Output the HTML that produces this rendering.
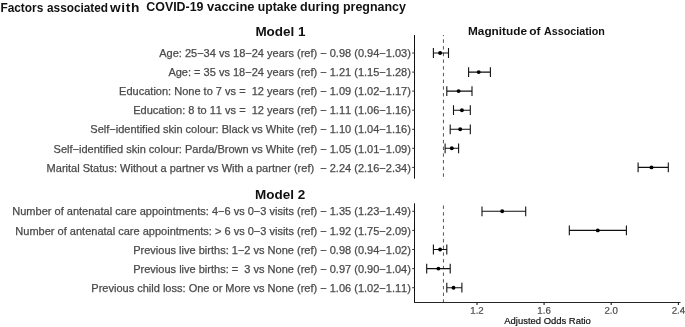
<!DOCTYPE html>
<html><head><meta charset="utf-8"><title>Factors associated with COVID-19 vaccine uptake during pregnancy</title>
<style>
html,body{margin:0;padding:0;background:#fff;}
body{width:685px;height:327px;overflow:hidden;}
svg{display:block;}
text{font-family:"Liberation Sans",sans-serif;font-kerning:none;}
.lab{font-size:11.02px;fill:#4a4a4a;stroke:#4a4a4a;stroke-width:0.25px;text-anchor:end;}
.tk{font-size:9.7px;fill:#4a4a4a;stroke:#4a4a4a;stroke-width:0.2px;text-anchor:middle;}
.ttl{font-weight:bold;fill:#111;}
</style></head><body>
<svg width="685" height="327" viewBox="0 0 685 327">
<rect width="685" height="327" fill="#fff"/>
<text class="ttl" x="0.4" y="11.7" font-size="12.7" textLength="42.9" lengthAdjust="spacingAndGlyphs">Factors</text>
<text class="ttl" x="47.0" y="11.7" font-size="12.7" textLength="61.1" lengthAdjust="spacingAndGlyphs">associated</text>
<text class="ttl" x="110.0" y="11.7" font-size="12.7" letter-spacing="0.6" textLength="30.0" lengthAdjust="spacingAndGlyphs">with</text>
<text class="ttl" x="146.3" y="11.1" font-size="12.7" textLength="57.2" lengthAdjust="spacingAndGlyphs">COVID-19</text>
<text class="ttl" x="207.0" y="11.1" font-size="12.7" textLength="47.5" lengthAdjust="spacingAndGlyphs">vaccine</text>
<text class="ttl" x="257.8" y="11.1" font-size="12.7" textLength="39.2" lengthAdjust="spacingAndGlyphs">uptake</text>
<text class="ttl" x="300.1" y="11.1" font-size="12.7" textLength="39.4" lengthAdjust="spacingAndGlyphs">during</text>
<text class="ttl" x="343.0" y="11.1" font-size="12.7" textLength="62.9" lengthAdjust="spacingAndGlyphs">pregnancy</text>
<text class="ttl" x="255.4" y="35.8" font-size="12.6" textLength="50.2" lengthAdjust="spacingAndGlyphs">Model 1</text>
<text class="ttl" x="255.1" y="199.0" font-size="12.6" textLength="50.2" lengthAdjust="spacingAndGlyphs">Model 2</text>
<text class="ttl" x="468.0" y="34.8" font-size="11.3" textLength="59.0" lengthAdjust="spacingAndGlyphs">Magnitude</text>
<text class="ttl" x="529.2" y="34.8" font-size="11.3" textLength="11.3" lengthAdjust="spacingAndGlyphs">of</text>
<text class="ttl" x="544.0" y="34.8" font-size="11.3" textLength="60.8" lengthAdjust="spacingAndGlyphs">Association</text>
<line x1="443.45" y1="35.0" x2="443.45" y2="178.6" stroke="#383838" stroke-width="0.85" stroke-dasharray="3.4 3.3" stroke-dashoffset="2.30"/>
<line x1="414.5" y1="35.0" x2="414.5" y2="178.6" stroke="#111" stroke-width="1.05"/>
<text class="lab" x="410.9" y="57.15">Age: 25−34 vs 18−24 years (ref) − 0.98 (0.94−1.03)</text>
<line x1="412.2" y1="53.0" x2="414.5" y2="53.0" stroke="#333" stroke-width="1"/>
<path d="M433.4 53.0H448.5M433.4 48.1V57.9M448.5 48.1V57.9" stroke="#111" stroke-width="1.1" fill="none"/>
<circle cx="440.1" cy="53.0" r="1.95" fill="#000"/>
<text class="lab" x="410.9" y="76.22">Age: = 35 vs 18−24 years (ref) − 1.21 (1.15−1.28)</text>
<line x1="412.2" y1="72.1" x2="414.5" y2="72.1" stroke="#333" stroke-width="1"/>
<path d="M468.6 72.1H490.4M468.6 67.2V77.0M490.4 67.2V77.0" stroke="#111" stroke-width="1.1" fill="none"/>
<circle cx="478.7" cy="72.1" r="1.95" fill="#000"/>
<text class="lab" x="410.9" y="95.29">Education: None to 7 vs =  12 years (ref) − 1.09 (1.02−1.17)</text>
<line x1="412.2" y1="91.1" x2="414.5" y2="91.1" stroke="#333" stroke-width="1"/>
<path d="M446.8 91.1H472.0M446.8 86.2V96.0M472.0 86.2V96.0" stroke="#111" stroke-width="1.1" fill="none"/>
<circle cx="458.6" cy="91.1" r="1.95" fill="#000"/>
<text class="lab" x="410.9" y="114.36">Education: 8 to 11 vs =  12 years (ref) − 1.11 (1.06−1.16)</text>
<line x1="412.2" y1="110.2" x2="414.5" y2="110.2" stroke="#333" stroke-width="1"/>
<path d="M453.5 110.2H470.3M453.5 105.3V115.1M470.3 105.3V115.1" stroke="#111" stroke-width="1.1" fill="none"/>
<circle cx="461.9" cy="110.2" r="1.95" fill="#000"/>
<text class="lab" x="410.9" y="133.43">Self−identified skin colour: Black vs White (ref) − 1.10 (1.04−1.16)</text>
<line x1="412.2" y1="129.3" x2="414.5" y2="129.3" stroke="#333" stroke-width="1"/>
<path d="M450.2 129.3H470.3M450.2 124.4V134.2M470.3 124.4V134.2" stroke="#111" stroke-width="1.1" fill="none"/>
<circle cx="460.2" cy="129.3" r="1.95" fill="#000"/>
<text class="lab" x="410.9" y="152.50">Self−identified skin colour: Parda/Brown vs White (ref) − 1.05 (1.01−1.09)</text>
<line x1="412.2" y1="148.3" x2="414.5" y2="148.3" stroke="#333" stroke-width="1"/>
<path d="M445.1 148.3H458.6M445.1 143.4V153.2M458.6 143.4V153.2" stroke="#111" stroke-width="1.1" fill="none"/>
<circle cx="451.8" cy="148.3" r="1.95" fill="#000"/>
<text class="lab" x="410.9" y="171.57">Marital Status: Without a partner vs With a partner (ref)  − 2.24 (2.16−2.34)</text>
<line x1="412.2" y1="167.4" x2="414.5" y2="167.4" stroke="#333" stroke-width="1"/>
<path d="M638.1 167.4H668.3M638.1 162.5V172.3M668.3 162.5V172.3" stroke="#111" stroke-width="1.1" fill="none"/>
<circle cx="651.5" cy="167.4" r="1.95" fill="#000"/>
<line x1="443.45" y1="203.3" x2="443.45" y2="302.5" stroke="#383838" stroke-width="0.85" stroke-dasharray="3.4 3.3" stroke-dashoffset="4.50"/>
<line x1="414.5" y1="203.3" x2="414.5" y2="302.5" stroke="#111" stroke-width="1.05"/>
<text class="lab" x="410.9" y="215.45">Number of antenatal care appointments: 4−6 vs 0−3 visits (ref) − 1.35 (1.23−1.49)</text>
<line x1="412.2" y1="211.3" x2="414.5" y2="211.3" stroke="#333" stroke-width="1"/>
<path d="M482.0 211.3H525.7M482.0 206.4V216.2M525.7 206.4V216.2" stroke="#111" stroke-width="1.1" fill="none"/>
<circle cx="502.2" cy="211.3" r="1.95" fill="#000"/>
<text class="lab" x="410.9" y="234.55">Number of antenatal care appointments: &gt; 6 vs 0−3 visits (ref) − 1.92 (1.75−2.09)</text>
<line x1="412.2" y1="230.4" x2="414.5" y2="230.4" stroke="#333" stroke-width="1"/>
<path d="M569.3 230.4H626.4M569.3 225.5V235.3M626.4 225.5V235.3" stroke="#111" stroke-width="1.1" fill="none"/>
<circle cx="597.8" cy="230.4" r="1.95" fill="#000"/>
<text class="lab" x="410.9" y="253.65">Previous live births: 1−2 vs None (ref) − 0.98 (0.94−1.02)</text>
<line x1="412.2" y1="249.5" x2="414.5" y2="249.5" stroke="#333" stroke-width="1"/>
<path d="M433.4 249.5H446.8M433.4 244.6V254.4M446.8 244.6V254.4" stroke="#111" stroke-width="1.1" fill="none"/>
<circle cx="440.1" cy="249.5" r="1.95" fill="#000"/>
<text class="lab" x="410.9" y="272.75">Previous live births: =  3 vs None (ref) − 0.97 (0.90−1.04)</text>
<line x1="412.2" y1="268.6" x2="414.5" y2="268.6" stroke="#333" stroke-width="1"/>
<path d="M426.7 268.6H450.2M426.7 263.7V273.5M450.2 263.7V273.5" stroke="#111" stroke-width="1.1" fill="none"/>
<circle cx="438.4" cy="268.6" r="1.95" fill="#000"/>
<text class="lab" x="410.9" y="291.85">Previous child loss: One or More vs None (ref) − 1.06 (1.02−1.11)</text>
<line x1="412.2" y1="287.7" x2="414.5" y2="287.7" stroke="#333" stroke-width="1"/>
<path d="M446.8 287.7H461.9M446.8 282.8V292.6M461.9 282.8V292.6" stroke="#111" stroke-width="1.1" fill="none"/>
<circle cx="453.5" cy="287.7" r="1.95" fill="#000"/>
<line x1="414.0" y1="302.47" x2="680.5" y2="302.47" stroke="#262626" stroke-width="1.05"/>
<line x1="477.0" y1="302.5" x2="477.0" y2="305.1" stroke="#222" stroke-width="1.15"/>
<text class="tk" transform="translate(477.0 313.8) rotate(0.05)">1.2</text>
<line x1="544.1" y1="302.5" x2="544.1" y2="305.1" stroke="#222" stroke-width="1.15"/>
<text class="tk" transform="translate(544.1 313.8) rotate(0.05)">1.6</text>
<line x1="611.2" y1="302.5" x2="611.2" y2="305.1" stroke="#222" stroke-width="1.15"/>
<text class="tk" transform="translate(611.2 313.8) rotate(0.05)">2.0</text>
<line x1="678.4" y1="302.5" x2="678.4" y2="305.1" stroke="#222" stroke-width="1.15"/>
<text class="tk" transform="translate(678.4 313.8) rotate(0.05)">2.4</text>
<text x="547.6" y="324.1" font-size="9.45" fill="#111" stroke="#111" stroke-width="0.2" text-anchor="middle">Adjusted Odds Ratio</text>
</svg></body></html>
